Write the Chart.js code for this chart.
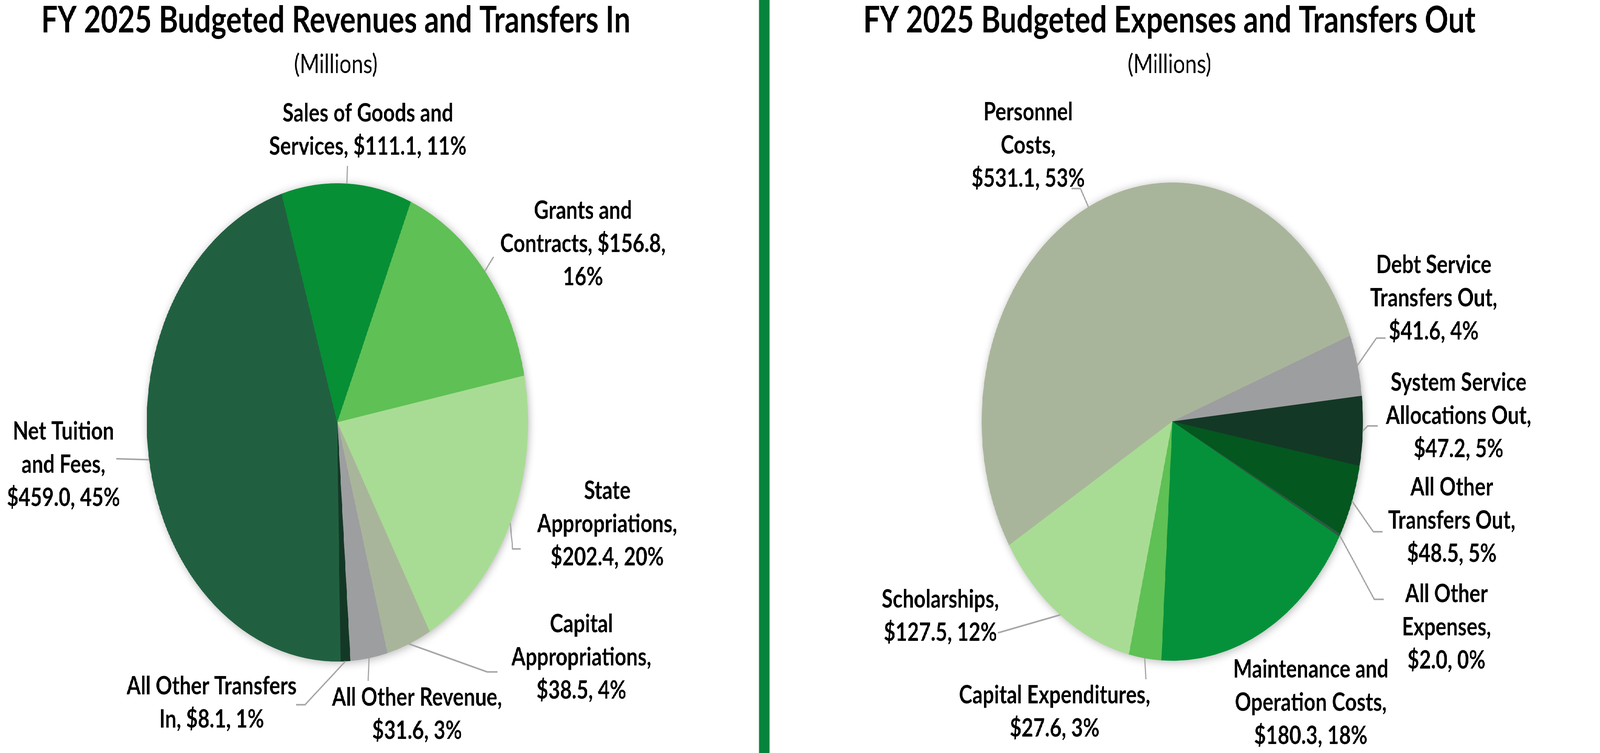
<!DOCTYPE html>
<html>
<head>
<meta charset="utf-8">
<title>FY 2025 Budget</title>
<script src="https://cdn.jsdelivr.net/npm/chart.js@4.4.1/dist/chart.umd.min.js"></script>
<style>
  html, body { margin: 0; padding: 0; background: #fff; overflow: hidden; }
  #stage { position: absolute; left: 0; top: 0; width: 5136px; height: 1927px; transform-origin: 0 0; background: #fff; }
  .panel { position: absolute; top: 0; height: 1927px; }
  #left { left: 0; width: 2436px; }
  #right { left: 2470px; width: 2666px; }
  #divider { position: absolute; left: 2436px; top: 0; width: 34px; height: 1927px; background: #07843b; }
</style>
</head>
<body>
<div id="stage">
  <div class="panel" id="left"><canvas id="revenue-chart" width="2436" height="1927"></canvas></div>
  <div id="divider"></div>
  <div class="panel" id="right"><canvas id="expense-chart" width="2666" height="1927"></canvas></div>
</div>
<script>
// Revenues and transfers in ($ millions), clockwise from the bottom of the pie
const revenueCategories = ['Net Tuition and Fees', 'Sales of Goods and Services', 'Grants and Contracts',
  'State Appropriations', 'Capital Appropriations', 'All Other Revenue', 'All Other Transfers In'];
const revenueValues = [459.0, 111.1, 156.8, 202.4, 38.5, 31.6, 8.1];
const revenuePercents = [45, 11, 16, 20, 4, 3, 1];

// Expenses and transfers out ($ millions), clockwise from the lower left
const expenseCategories = ['Personnel Costs', 'Debt Service Transfers Out', 'System Service Allocations Out',
  'All Other Transfers Out', 'All Other Expenses', 'Maintenance and Operation Costs', 'Capital Expenditures', 'Scholarships'];
const expenseValues = [531.1, 41.6, 47.2, 48.5, 2.0, 180.3, 27.6, 127.5];
const expensePercents = [53, 4, 5, 5, 0, 18, 3, 12];

const revenueColors = ['#206040', '#078f35', '#5fc055', '#a8dc94', '#a9b59b', '#9d9ea0', '#143826'];
const expenseColors = ['#a9b59b', '#9d9ea0', '#143826', '#03571f', '#2c5a40', '#05913a', '#5fc055', '#a8dc94'];

// Label placement, relative to the pie centre (px at radius 612).
// words = how many words go on each line, at = centre of first line, leader = line points after the slice edge
const revenueLabelLayout = [
  { words: [2, 2, 2], at: [-880, 21], leader: [[-710, 93]] },
  { words: [4, 3], at: [98, -794], leader: [[32, -657]] },
  { words: [2, 2, 1], at: [789, -544], leader: [[502, -424]] },
  { words: [1, 1, 2], at: [867, 173], leader: [[563, 324], [589, 324]] },
  { words: [1, 1, 2], at: [784, 514], leader: [[481, 639], [514, 639]] },
  { words: [3, 2], at: [256, 703], leader: [[99, 662]] },
  { words: [3, 3], at: [-404, 674], leader: [[-104, 723], [-133, 723]] },
];
const expenseLabelLayout = [
  { words: [1, 1, 2], at: [-463, -795], leader: [[-295, -597], [-324, -597]] },
  { words: [2, 2, 2], at: [840, -403], leader: [[656, -214], [685, -214]] },
  { words: [2, 2, 2], at: [920, -102], leader: [[628, 11], [660, 11]] },
  { words: [2, 2, 2], at: [898, 166], leader: [[646, 282], [676, 282]] },
  { words: [2, 1, 2], at: [881, 439], leader: [[649, 455], [679, 455]] },
  { words: [2, 2, 2], at: [445, 633], leader: [] },
  { words: [2, 2], at: [-378, 699], leader: [[-85, 660]] },
  { words: [1, 2], at: [-745, 453], leader: [[-560, 541]] },
];

const LABEL_FONT = 'bold 65px Lato';
const LINE_HEIGHT = 85;

// the page is laid out at 5136x1927 and stretched to whatever window we get
const stage = document.getElementById('stage');
stage.style.transform = `scale(${window.innerWidth / 5136}, ${window.innerHeight / 1927})`;

function labelLines(name, value, pct, words) {
  const parts = `${name}, $${value.toFixed(1)}, ${pct}%`.split(' ');
  const lines = [];
  let i = 0;
  words.forEach(n => { lines.push(parts.slice(i, i + n).join(' ')); i += n; });
  return lines;
}

// Draws the soft shadow under the pie, the titles, and the data labels with leader lines
const pieLabels = {
  id: 'pieLabels',
  beforeDatasetsDraw(chart) {
    const arc = chart.getDatasetMeta(0).data[0];
    const { x, y, outerRadius } = arc.getProps(['x', 'y', 'outerRadius'], true);
    const ctx = chart.ctx;
    ctx.save();
    ctx.shadowColor = 'rgba(0, 0, 0, 0.3)';
    ctx.shadowBlur = 24;
    ctx.shadowOffsetX = 3;
    ctx.shadowOffsetY = 3;
    ctx.beginPath();
    ctx.arc(x, y, outerRadius, 0, Math.PI * 2);
    ctx.fillStyle = '#fff';
    ctx.fill();
    ctx.restore();
  },
  afterDraw(chart, args, opts) {
    const ctx = chart.ctx;
    const meta = chart.getDatasetMeta(0);
    const values = chart.data.datasets[0].data;
    const first = meta.data[0].getProps(['x', 'y', 'outerRadius'], true);
    const cx = first.x, cy = first.y, r = first.outerRadius;
    const k = r / 612;

    ctx.save();
    ctx.fillStyle = '#000';
    ctx.textAlign = 'center';
    ctx.textBaseline = 'alphabetic';
    ctx.font = 'bold 94px Lato';
    ctx.fillText(opts.title, opts.titleX, 83);
    ctx.font = '68px Lato';
    ctx.fillText(opts.subtitle, opts.titleX, 187);

    meta.data.forEach((el, i) => {
      const lay = opts.layout[i];
      const { startAngle, endAngle } = el.getProps(['startAngle', 'endAngle'], true);
      const mid = (startAngle + endAngle) / 2;
      if (lay.leader.length) {
        ctx.beginPath();
        ctx.moveTo(cx + r * Math.cos(mid), cy + r * Math.sin(mid));
        lay.leader.forEach(p => ctx.lineTo(cx + p[0] * k, cy + p[1] * k));
        ctx.strokeStyle = '#a6a6a6';
        ctx.lineWidth = 4;
        ctx.stroke();
      }
      const lines = labelLines(chart.data.labels[i], values[i], opts.percents[i], lay.words);
      ctx.font = LABEL_FONT;
      ctx.fillStyle = '#000';
      lines.forEach((line, j) => {
        ctx.fillText(line, cx + lay.at[0] * k, cy + lay.at[1] * k + 23 + j * LINE_HEIGHT);
      });
    });
    ctx.restore();
  }
};

function makePie(canvasId, labels, values, colors, rotation, padding, labelOpts) {
  return new Chart(document.getElementById(canvasId), {
    type: 'pie',
    data: {
      labels: labels,
      datasets: [{
        data: values,
        backgroundColor: colors,
        borderColor: colors,
        borderWidth: 1,
      }]
    },
    options: {
      responsive: false,
      devicePixelRatio: 1,
      animation: false,
      rotation: rotation,
      layout: { padding: padding },
      plugins: {
        legend: { display: false },
        tooltip: { enabled: false },
        pieLabels: labelOpts
      }
    },
    plugins: [pieLabels]
  });
}

function drawCharts() {
  makePie('revenue-chart', revenueCategories, revenueValues, revenueColors, 179,
    { left: 471, top: 469, right: 741, bottom: 234 },
    { title: 'FY 2025 Budgeted Revenues and Transfers In', subtitle: '(Millions)', titleX: 1078,
      percents: revenuePercents, layout: revenueLabelLayout });

  makePie('expense-chart', expenseCategories, expenseValues, expenseColors, 238.85,
    { left: 681, top: 467, right: 761, bottom: 236 },
    { title: 'FY 2025 Budgeted Expenses and Transfers Out', subtitle: '(Millions)', titleX: 1284,
      percents: expensePercents, layout: expenseLabelLayout });
}

Promise.all([document.fonts.load('bold 65px Lato'), document.fonts.load('68px Lato')])
  .catch(() => {})
  .then(drawCharts);
</script>
</body>
</html>
